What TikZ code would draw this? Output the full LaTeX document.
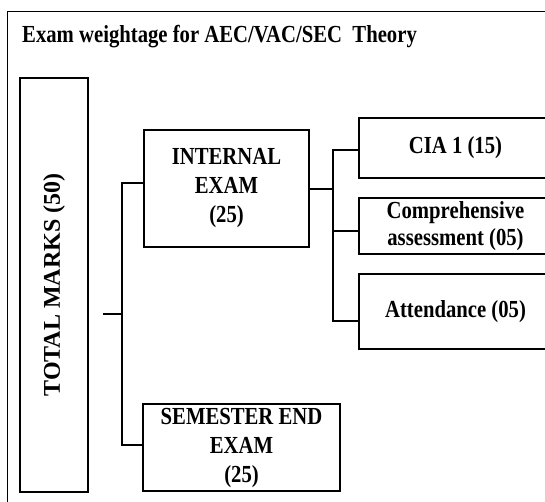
\documentclass[tikz,border=0pt]{standalone}
\usepackage{fontspec}
\setmainfont{Liberation Serif}[FakeStretch=0.845]
\newfontfamily\upfont{Liberation Serif}
\usepackage{tikz}

\begin{document}
\begin{tikzpicture}[x=1pt, y=-1pt,
  box/.style={draw, line width=1.3pt, inner sep=0pt, align=center,
    font=\bfseries\fontsize{24.5}{29}\selectfont},
  link/.style={line width=2pt}]
  \useasboundingbox (0,0) rectangle (545,501);
  \clip (0,0) rectangle (545,501);

  % Frame and title
  \draw[line width=0.9pt] (7,520) -- (7,11) -- (560,11);
  \node[anchor=base west, inner sep=0pt, font=\bfseries\fontsize{24.5}{28}\selectfont]
    (title) at (22,42) {Exam weightage for AEC/VAC/SEC\ \ Theory};

  % Nodes
  \node[box, rotate=90, minimum width=414, minimum height=68,
    font=\upfont\bfseries\fontsize{24}{29}\selectfont] (total) at (54,285) {TOTAL MARKS (50)};
  \node[box, minimum width=165, minimum height=117] (internal) at (226.5,188.5) {INTERNAL\\EXAM\\(25)};
  \node[box, minimum width=197, minimum height=87] (semester) at (241.5,447.5) {SEMESTER END\\EXAM\\(25)};
  \foreach \n/\y/\h/\t in {cia/148/60/{CIA 1 (15)},
                           comp/226/56/{Comprehensive\\assessment (05)},
                           att/311.5/75/{Attendance (05)}}{
    \node[box, minimum width=193, minimum height=\h, font=\bfseries\fontsize{24.5}{27}\selectfont]
      (\n) at (455.5,\y) {\t};
  }

  % Edges
  \coordinate (tj) at (122,314);
  \coordinate (ij) at (333,188.5);
  \draw[link] (tj) -- ++(-19,0);
  \draw[link] ([yshift=5.5pt]internal.west) -| (tj) |- ([yshift=2.5pt]semester.west);
  \draw[link] (internal.east) -- (ij);
  \draw[link] ([yshift=-2pt]cia.west) -| (ij) |- ([yshift=-9.5pt]att.west);
  \draw[link] ([yshift=-5pt]comp.west) -- ++(-26,0);

\end{tikzpicture}
\end{document}
